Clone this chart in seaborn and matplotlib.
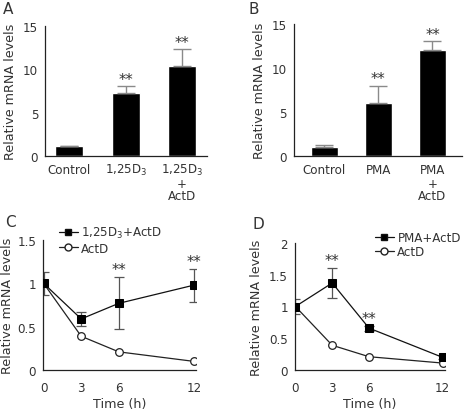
import matplotlib
matplotlib.use("Agg")
import matplotlib.pyplot as plt
from matplotlib.lines import Line2D
from matplotlib.transforms import blended_transform_factory
import seaborn as sns
import pandas as pd
import numpy as np

sns.set_style("white")
plt.rcParams['font.family'] = ['DejaVu Sans']
plt.rcParams['mathtext.fontset'] = 'dejavusans'

# Panel A data
a_cats = ["Control", "1,25D$_3$", "1,25D$_3$\n+\nActD"]
a_vals = [1.1, 7.3, 10.4]
a_err = [0.1, 0.8, 1.9]
a_sig = ["", "**", "**"]

# Panel B data
b_cats = ["Control", "PMA", "PMA\n+\nActD"]
b_vals = [1.0, 6.0, 12.0]
b_err = [0.3, 2.0, 1.1]
b_sig = ["", "**", "**"]

# Panel C data
time = [0, 3, 6, 12]
c_treat = [1.0, 0.59, 0.77, 0.98]
c_treat_err = [0.13, 0.08, 0.30, 0.19]
c_actd = [1.0, 0.39, 0.21, 0.10]
c_sig = ["", "", "**", "**"]
c_label = "1,25D$_3$+ActD"

# Panel D data
d_treat = [1.0, 1.37, 0.66, 0.20]
d_treat_err = [0.12, 0.24, 0.04, 0.03]
d_actd = [1.0, 0.39, 0.21, 0.11]
d_sig = ["", "**", "**", ""]
d_label = "PMA+ActD"

FS = 8.6
YFS = 9.2
TXT = "#333333"

fig = plt.figure(figsize=(4.65, 4.10), dpi=100)
axA = fig.add_axes([0.097, 0.617, 0.348, 0.317])
axB = fig.add_axes([0.632, 0.617, 0.362, 0.322])
axC = fig.add_axes([0.0925, 0.095, 0.33, 0.317])
axD = fig.add_axes([0.634, 0.095, 0.323, 0.31])


def style(ax, labelpad=4):
    sns.despine(ax=ax)
    for s in ["left", "bottom"]:
        ax.spines[s].set_color("#222222")
        ax.spines[s].set_linewidth(0.9)
    ax.tick_params(axis="both", direction="out", length=3, width=0.8,
                   colors="#222222", labelsize=FS, labelcolor=TXT, pad=2)
    ax.set_ylabel("Relative mRNA levels", fontsize=YFS, color=TXT,
                  labelpad=labelpad)


def bar_panel(ax, cats, vals, errs, sigs, xlim):
    df = pd.DataFrame({"cat": cats, "val": vals})
    sns.barplot(data=df, x="cat", y="val", color="black", width=0.5,
                errorbar=None, ax=ax, saturation=1)
    x = np.arange(len(cats))
    ax.errorbar(x, vals, yerr=[np.zeros(len(vals)), errs], fmt="none",
                ecolor="#8a8a8a", elinewidth=1.0, capsize=6.5, capthick=1.0)
    for xi, v, e, s in zip(x, vals, errs, sigs):
        if s:
            ax.text(xi, v + e - 0.1, s, ha="center", va="bottom",
                    fontsize=10.5, color=TXT)
    ax.set_ylim(0, 15)
    ax.set_yticks([0, 5, 10, 15])
    ax.set_xlim(*xlim)
    ax.set_xlabel("")
    style(ax)
    # first line of each category as the tick label (baseline aligned),
    # remaining lines stacked below it
    firsts = [c.split("\n")[0] for c in cats]
    ax.set_xticks(x)
    ax.set_xticklabels(firsts)
    ax.tick_params(axis="x", length=0, pad=12)
    for lab in ax.get_xticklabels():
        lab.set_verticalalignment("baseline")
    tr = blended_transform_factory(ax.transData, ax.transAxes)
    for xi, c in zip(x, cats):
        rest = c.split("\n")[1:]
        if rest:
            ax.text(xi, -0.16, "\n".join(rest), transform=tr, ha="center",
                    va="top", fontsize=FS, color=TXT, linespacing=0.92)


bar_panel(axA, a_cats, a_vals, a_err, a_sig, (-0.43, 2.44))
bar_panel(axB, b_cats, b_vals, b_err, b_sig, (-0.56, 2.55))


def line_panel(ax, treat, terr, actd, sigs, label, ylim, yticks, yticklabels,
               legend_anchor, labelpad):
    df = pd.DataFrame({"t": time * 2,
                       "v": list(treat) + list(actd),
                       "g": [label] * len(time) + ["ActD"] * len(time)})
    sns.lineplot(data=df[df.g == "ActD"], x="t", y="v", color="#222222",
                 lw=0.9, marker="o", markersize=5.5, markerfacecolor="white",
                 markeredgecolor="#222222", markeredgewidth=0.9, ax=ax,
                 legend=False, zorder=3)
    ax.errorbar(time, treat, yerr=terr, fmt="none", ecolor="#555555",
                elinewidth=0.9, capsize=3.5, capthick=0.9, zorder=2)
    sns.lineplot(data=df[df.g == label], x="t", y="v", color="#111111",
                 lw=0.9, marker="s", markersize=5.5, markerfacecolor="black",
                 markeredgecolor="black", ax=ax, legend=False, zorder=4)
    for t, v, e, s in zip(time, treat, terr, sigs):
        if s:
            ax.text(t, v + e, s, ha="center",
                    va="bottom", fontsize=10.5, color=TXT)
    ax.set_xlim(-0.05, 12.2)
    ax.set_xticks(time)
    ax.set_ylim(*ylim)
    ax.set_yticks(yticks)
    ax.set_yticklabels(yticklabels)
    style(ax, labelpad=labelpad)
    ax.set_xlabel("Time (h)", fontsize=YFS, color=TXT, labelpad=2)
    ax.tick_params(axis="x", pad=5)
    handles = [
        Line2D([], [], color="#111111", lw=0.9, marker="s", markersize=5,
               markerfacecolor="black", label=label),
        Line2D([], [], color="#222222", lw=0.9, marker="o", markersize=5,
               markerfacecolor="white", markeredgecolor="#222222",
               label="ActD"),
    ]
    leg = ax.legend(handles=handles, loc="upper left",
                    bbox_to_anchor=legend_anchor, frameon=False,
                    fontsize=FS, handlelength=1.6, handletextpad=0.3,
                    labelspacing=0.1, borderaxespad=0)
    for t in leg.get_texts():
        t.set_color(TXT)


line_panel(axC, c_treat, c_treat_err, c_actd, c_sig, c_label,
           (0, 1.5), [0, 0.5, 1, 1.5], ["0", "0.5", "1", "1.5"],
           (0.07, 1.15), 2)
line_panel(axD, d_treat, d_treat_err, d_actd, d_sig, d_label,
           (0, 2), [0, 0.5, 1, 1.5, 2], ["0", "0.5", "1", "1.5", "2"],
           (0.5, 1.13), 4)

for lbl, x, y in [("A", 0.006, 0.995), ("B", 0.535, 0.995),
                  ("C", 0.01, 0.475), ("D", 0.543, 0.47)]:
    fig.text(x, y, lbl, fontsize=11, color=TXT, ha="left", va="top")

fig.savefig("out.png", dpi=100)
